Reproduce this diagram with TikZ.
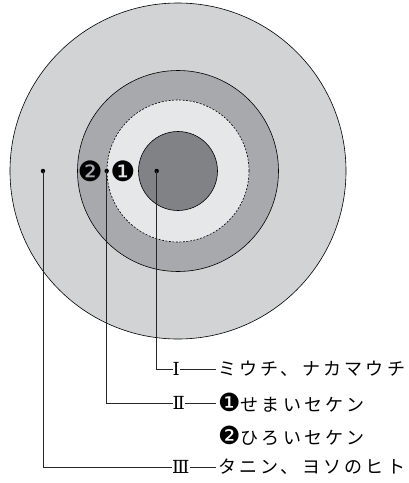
\documentclass[tikz,border=0pt]{standalone}
\usepackage{fontspec}
\newfontfamily\jpfont[LetterSpace=18]{Noto Sans CJK JP}
\newfontfamily\numfont{DejaVu Serif}
\newfontfamily\symfont{DejaVu Sans}
\definecolor{cOuter}{HTML}{D1D3D4}
\definecolor{cRing}{HTML}{A7A9AC}
\definecolor{cLight}{HTML}{E6E7E8}
\definecolor{cInner}{HTML}{808285}
\begin{document}
\begin{tikzpicture}[x=1pt,y=-1pt,
  ring/.style={draw=black,line width=0.6pt},
  lead/.style={draw=black!85,line width=0.9pt},
  dotmark/.style={circle,fill=black,inner sep=0pt,minimum size=4.5pt},
  numlabel/.style={font=\numfont\fontsize{18}{18}\selectfont,inner sep=0pt,anchor=west},
  txt/.style={font=\jpfont\fontsize{18}{18}\selectfont,inner sep=0pt,anchor=west},
  badge/.style={font=\symfont\fontsize{28}{28}\selectfont,inner sep=0pt}]
\useasboundingbox (0,0) rectangle (409,483);
\coordinate (c) at (178,171);
% circles
\fill[cOuter] (c) circle[radius=168pt];
\draw[ring] (c) circle[radius=168pt];
\fill[cRing] (c) circle[radius=100.5pt];
\draw[ring] (c) circle[radius=100.5pt];
\fill[cLight] (c) circle[radius=71pt];
\draw[ring,dash pattern=on 2pt off 1.5pt] (c) circle[radius=71pt];
\fill[cInner] (c) circle[radius=39.5pt];
\draw[ring] (c) circle[radius=39.5pt];
% labels
\node[numlabel] (n1) at (172.5,369) {Ⅰ};
\node[numlabel] (n2) at (172.5,403) {Ⅱ};
\node[numlabel] (n3) at (172,467) {Ⅲ};
\node[txt] (t1) at (218,369) {ミウチ、ナカマウチ};
\node[txt] (t2) at (218,403) {{\symfont\fontsize{25}{25}\selectfont ❶}せまいセケン};
\node[txt] (t2b) at (218,436) {{\symfont\fontsize{25}{25}\selectfont ❷}ひろいセケン};
\node[txt] (t3) at (218,467) {タニン、ヨソのヒト};
% dots and badges
\node[dotmark] (d1) at (156.7,171) {};
\node[dotmark] (d2) at (106.7,171) {};
\node[dotmark] (d3) at (43,171) {};
\node[badge] (b1) at (123,171) {❶};
\node[badge] (b2) at (90.3,171) {❷};
% connectors
\draw[lead] (d1.center) |- (n1.west);
\draw[lead] (d2.center) |- (n2.west);
\draw[lead] (d3.center) |- (n3.west);
\draw[lead,shorten >=2pt] (n1.east) -- (t1.west);
\draw[lead,shorten >=2pt] (n2.east) -- (t2.west);
\draw[lead,shorten >=2pt] (n3.east) -- (t3.west);
\end{tikzpicture}
\end{document}
